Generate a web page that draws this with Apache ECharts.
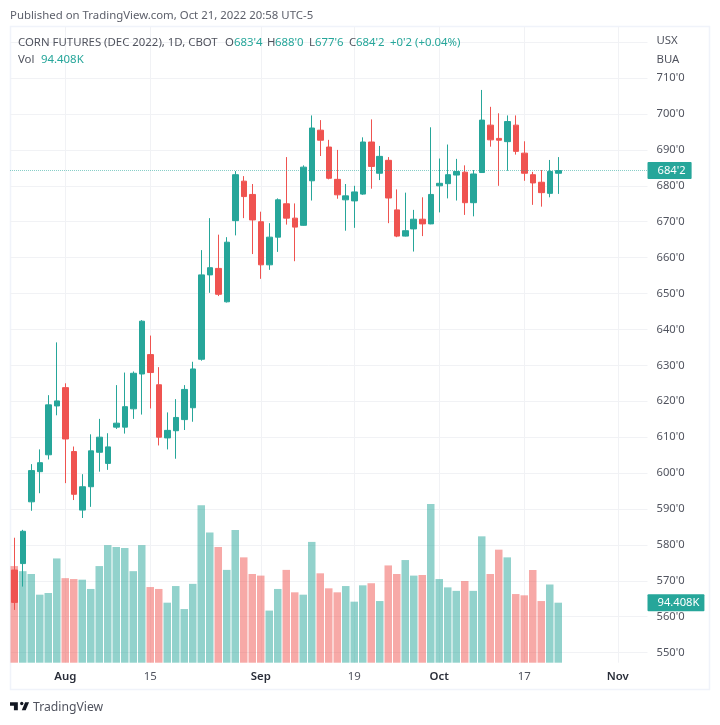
<!DOCTYPE html>
<html>
<head>
<meta charset="utf-8">
<title>Corn futures</title>
<style>
  html, body { margin: 0; padding: 0; background: #fff; }
  #chart { width: 720px; height: 725px; }
</style>
<script src="https://cdn.jsdelivr.net/npm/echarts@6/dist/echarts.min.js"></script>
</head>
<body>
<div id="chart"></div>
<script>
// trading days, then the empty days up to the right edge of the plot
const categories = [
  'Jul 22', 'Jul 25', 'Jul 26', 'Jul 27', 'Jul 28', 'Jul 29',
  'Aug 1', 'Aug 2', 'Aug 3', 'Aug 4', 'Aug 5', 'Aug 8', 'Aug 9', 'Aug 10', 'Aug 11', 'Aug 12',
  'Aug 15', 'Aug 16', 'Aug 17', 'Aug 18', 'Aug 19', 'Aug 22', 'Aug 23', 'Aug 24', 'Aug 25', 'Aug 26',
  'Aug 29', 'Aug 30', 'Aug 31', 'Sep 1', 'Sep 2', 'Sep 6', 'Sep 7', 'Sep 8', 'Sep 9',
  'Sep 12', 'Sep 13', 'Sep 14', 'Sep 15', 'Sep 16', 'Sep 19', 'Sep 20', 'Sep 21', 'Sep 22', 'Sep 23',
  'Sep 26', 'Sep 27', 'Sep 28', 'Sep 29', 'Sep 30', 'Oct 3', 'Oct 4', 'Oct 5', 'Oct 6', 'Oct 7',
  'Oct 10', 'Oct 11', 'Oct 12', 'Oct 13', 'Oct 14', 'Oct 17', 'Oct 18', 'Oct 19', 'Oct 20', 'Oct 21',
  'Oct 24', 'Oct 25', 'Oct 26', 'Oct 27', 'Oct 28', 'Oct 31', 'Nov 1', 'Nov 2', 'Nov 3', 'Nov 4'
];

const opens = [
  573, 574.8, 592, 600.4, 605.1, 618.7, 623.8, 606, 589.7, 596.2, 605.8, 602.7, 612.8, 612.8, 617.9, 627.6,
  633, 624.6, 609.8, 611.8, 614.9, 618.2, 631.7, 655.2, 657, 647.7, 670.3, 681.3, 677.6, 670, 658, 665.7,
  675, 671, 669, 681.4, 695.5, 690.8, 681.8, 676.1, 675.8, 677.7, 692.2, 683.5, 687.1, 673.3, 666, 668,
  670.7, 669.4, 680, 680.6, 683, 683.8, 675.3, 683.7, 696.9, 693.2, 692.3, 696.9, 689.1, 683.1, 681, 677.9, 683.5
];
const closes = [
  564, 583.8, 600.7, 602.9, 619, 620.1, 609.5, 594.1, 596.2, 606.2, 610, 607.3, 613.9, 618.5, 627.8, 642.3,
  628, 610, 611.9, 615.5, 623.3, 629, 655.2, 657.2, 649.8, 664.3, 683.1, 677, 670.5, 658, 665.7, 676.1,
  671, 668.5, 685.2, 696.1, 692.7, 682.1, 677.5, 677.2, 678.3, 692.2, 685.4, 688.2, 676.6, 666, 667.5, 670.7,
  669.4, 677.6, 680.7, 683.1, 684, 675.3, 683.3, 698.3, 692.8, 692.7, 697.9, 689.6, 683.5, 680.8, 678.1, 684, 684.25
];
const lows = [
  561.9, 568.4, 589.5, 594.4, 603.8, 616.1, 597.2, 592.5, 587.5, 590.6, 600.4, 600.9, 612.3, 611, 615.1, 616.3,
  618, 607.7, 606.6, 604, 612, 614.3, 631.3, 650.2, 649.3, 647.5, 666.2, 671, 661, 654.1, 656.6, 661.6,
  669.2, 659, 668.9, 675.9, 688.3, 681.8, 676.4, 667.5, 668.3, 677.5, 679.2, 681.6, 669.6, 665.7, 665.9, 661.7,
  666, 669.3, 672.6, 676.5, 675.9, 671.9, 671.5, 683.6, 690.9, 680, 684.2, 688.7, 681.4, 674.7, 674.2, 676.8, 677.75
];
const highs = [
  582, 584.2, 602.5, 606.6, 621.7, 636.4, 625, 607.4, 599.7, 610.8, 615.1, 611.1, 624.5, 628, 628.3, 642.6,
  638.3, 629.5, 616.9, 620.6, 624.5, 631, 662.1, 671, 666.4, 665.7, 684.1, 682.7, 680.5, 672.8, 669.6, 676.5,
  688, 675.1, 685.7, 699.6, 698.3, 692.8, 690, 680.5, 680, 693.5, 698.5, 691.1, 688, 679, 678.1, 673.3,
  676.8, 696.3, 687.6, 691.5, 687.5, 685.7, 684.4, 706.7, 702, 700.2, 699.6, 699.6, 692.4, 683.9, 684.4, 687.2, 688
];
// thousands of contracts
const volumes = [
  152, 144, 139.5, 107, 109.6, 164, 133, 131.6, 130.6, 116, 152, 185, 182, 180.4, 144, 185,
  119, 116, 94.4, 120.6, 84.4, 124, 247.6, 205, 182, 146, 208.8, 165.7, 139.5, 137, 82, 116,
  146, 110.7, 107, 190, 140.6, 117, 110.7, 120.6, 96, 121.7, 125, 97, 153, 139.5, 161.5, 137,
  138, 249.7, 131.6, 118.5, 113, 128.5, 113, 198.8, 139.5, 177.8, 165.7, 108, 106, 145.8, 97, 123, 94.408
];

const tickLabels = { 'Aug 1': 'Aug', 'Aug 15': '15', 'Sep 1': 'Sep', 'Sep 19': '19', 'Oct 3': 'Oct', 'Oct 17': '17', 'Nov 1': 'Nov' };
const lastPrice = 684.25;
const lastVolume = 94.408;

const UP = '#26a69a';
const DOWN = '#ef5350';
const GRID = '#f1f2f5';
const TEXT = '#50535e';
const LOGO = '#131722';
const FONT = '"Noto Sans", sans-serif';

const chart = echarts.init(document.getElementById('chart'));

function priceText(v) {
  const whole = Math.floor(v);
  return whole + "'" + Math.round((v - whole) * 8);
}

function legendItem(x, y, text, color) {
  return { type: 'text', left: x, top: y, z: 100, silent: true, style: { text: text, fill: color, font: '11.4px ' + FONT } };
}

chart.setOption({
  animation: false,
  backgroundColor: '#fff',
  textStyle: { fontFamily: FONT },
  grid: [
    { left: 10, right: 72.5, top: 42.18, bottom: 72.35 },
    { left: 10, right: 72.5, top: 27, bottom: 62.3 }
  ],
  xAxis: [
    { type: 'category', gridIndex: 0, data: categories, show: false },
    {
      type: 'category',
      gridIndex: 1,
      data: categories,
      axisLine: { show: false },
      axisTick: { show: false, alignWithLabel: true },
      splitLine: {
        show: true,
        alignWithLabel: true,
        interval: (i, v) => v in tickLabels,
        lineStyle: { color: GRID, width: 1 }
      },
      axisLabel: {
        interval: (i, v) => v in tickLabels,
        margin: 9,
        formatter: v => {
          const t = tickLabels[v] || '';
          return /^\d/.test(t) ? '{day|' + t + '}' : '{month|' + t + '}';
        },
        rich: {
          day: { color: TEXT, fontSize: 11.4, fontFamily: FONT },
          month: { color: '#2a2e39', fontSize: 11.4, fontWeight: 600, fontFamily: FONT }
        }
      }
    }
  ],
  yAxis: [
    {
      type: 'value',
      gridIndex: 0,
      position: 'right',
      min: 550,
      max: 720,
      interval: 10,
      axisLine: { show: false },
      axisTick: { show: false },
      splitLine: { lineStyle: { color: GRID, width: 1 } },
      axisLabel: {
        margin: 9,
        color: TEXT,
        fontSize: 11.2,
        padding: [3, 0, 0, 0],
        showMaxLabel: false,
        formatter: v => (v === 720 ? '' : v + "'0")
      }
    },
    { type: 'value', gridIndex: 1, min: 0, max: 1000, show: false }
  ],
  series: [
    {
      type: 'bar',
      name: 'Vol',
      xAxisIndex: 1,
      yAxisIndex: 1,
      z: 2,
      barWidth: 7.5,
      silent: true,
      data: volumes.map((v, i) => ({
        value: v,
        itemStyle: { color: closes[i] < opens[i] ? DOWN : UP, opacity: 0.5 }
      })),
      markLine: {
        silent: true,
        symbol: 'none',
        lineStyle: { color: 'rgba(38,166,154,0)' },
        data: [{ yAxis: lastVolume }],
        label: {
          position: 'end',
          distance: 0,
          formatter: lastVolume.toFixed(3) + 'K',
          color: '#fff',
          backgroundColor: UP,
          fontSize: 11.2,
          padding: [3, 5, 3, 10],
          borderRadius: 1
        }
      }
    },
    {
      type: 'candlestick',
      name: 'CORN FUTURES',
      xAxisIndex: 0,
      yAxisIndex: 0,
      z: 4,
      barWidth: 6,
      silent: true,
      itemStyle: { color: UP, color0: DOWN, borderColor: UP, borderColor0: DOWN, borderWidth: 1 },
      data: opens.map((o, i) => [o, closes[i], lows[i], highs[i]]),
      markLine: {
        silent: true,
        symbol: 'none',
        lineStyle: { color: 'rgba(38,166,154,0.55)', type: 'dotted', width: 1 },
        data: [{ yAxis: lastPrice }],
        label: {
          position: 'end',
          distance: 0,
          formatter: priceText(lastPrice),
          color: '#fff',
          backgroundColor: UP,
          fontSize: 11.2,
          padding: [3, 6, 3, 10],
          borderRadius: 1
        }
      }
    }
  ],
  graphic: [
    { type: 'rect', silent: true, z: 0, shape: { x: 10.5, y: 26.5, width: 699, height: 663 }, style: { fill: 'none', stroke: '#f0f3fa', lineWidth: 1.5 } },
    { type: 'text', left: 10, top: 10, z: 100, silent: true, style: { text: 'Published on TradingView.com, Oct 21, 2022 20:58 UTC-5', fill: '#5d606b', font: '11.4px ' + FONT } },
    legendItem(18, 37, 'CORN FUTURES (DEC 2022), 1D, CBOT', TEXT),
    legendItem(225, 37, 'O', TEXT), legendItem(234, 37, "683'4", UP),
    legendItem(267, 37, 'H', TEXT), legendItem(275, 37, "688'0", UP),
    legendItem(309, 37, 'L', TEXT), legendItem(315, 37, "677'6", UP),
    legendItem(349, 37, 'C', TEXT), legendItem(356, 37, "684'2", UP),
    legendItem(390, 37, "+0'2 (+0.04%)", UP),
    legendItem(18, 54, 'Vol', TEXT), legendItem(41, 54, '94.408K', UP),
    legendItem(656.5, 35, 'USX', TEXT),
    legendItem(656.5, 54, 'BUA', TEXT),
    {
      type: 'group',
      silent: true,
      x: 10,
      y: 699,
      scaleX: 0.56,
      scaleY: 0.56,
      children: [
        { type: 'polygon', shape: { points: [[14, 6], [0, 6], [0, 12], [7, 12], [7, 20], [14, 20]] }, style: { fill: LOGO } },
        { type: 'polygon', shape: { points: [[28, 20], [21, 20], [27, 6], [34, 6]] }, style: { fill: LOGO } },
        { type: 'circle', shape: { cx: 21, cy: 8, r: 3 }, style: { fill: LOGO } }
      ]
    },
    { type: 'text', left: 33, top: 702, silent: true, style: { text: 'TradingView', fill: '#50535e', font: '12.2px ' + FONT } }
  ]
});
</script>
</body>
</html>
